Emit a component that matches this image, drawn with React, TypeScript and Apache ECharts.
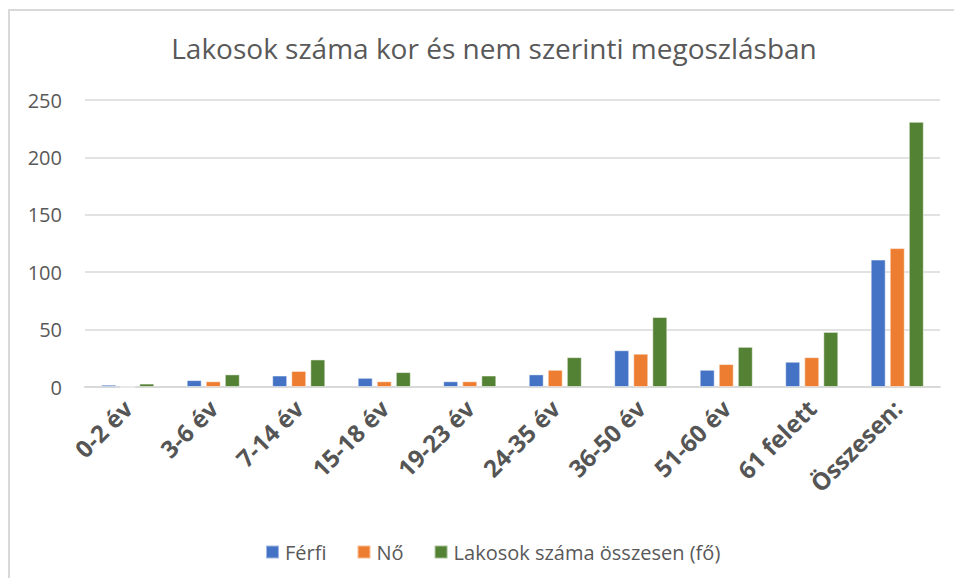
import React, { useEffect, useRef } from "react";
import * as echarts from "echarts";

const categories = ["0-2 év", "3-6 év", "7-14 év", "15-18 év", "19-23 év", "24-35 év", "36-50 év", "51-60 év", "61 felett", "Összesen:"];
const ferfi = [2, 6, 10, 8, 5, 11, 32, 15, 22, 111];
const no = [0, 5, 14, 5, 5, 15, 29, 20, 26, 121];
const osszesen = [3, 11, 24, 13, 10, 26, 61, 35, 48, 231];
const seriesNames = ["Férfi", "Nő", "Lakosok száma összesen (fő)"];
const titleText = "Lakosok száma kor és nem szerinti megoszlásban";

const FONT = "'Open Sans', 'Noto Sans', sans-serif";
const GREY = "#595959";

export default function App() {
  const ref = useRef<HTMLDivElement>(null);
  useEffect(() => {
    if (!ref.current) return;
    const chart = echarts.init(ref.current, null, { renderer: "svg" });
    const mk = (name: string, data: number[], color: string) => ({
      name,
      type: "bar",
      data,
      barWidth: 15,
      barGap: "27%",
      itemStyle: { color, borderColor: "rgba(255,255,255,0.5)", borderWidth: 1 },
    });
    chart.setOption({
      animation: false,
      backgroundColor: "#ffffff",
      textStyle: { fontFamily: FONT },
      title: {
        text: titleText,
        left: 489,
        top: 29,
        textAlign: "center",
        textStyle: { fontFamily: FONT, fontSize: 28, fontWeight: "normal", color: GREY },
      },
      legend: {
        left: 260,
        top: 537,
        itemWidth: 13,
        itemHeight: 13,
        itemGap: 30,
        icon: "rect",
        textStyle: { fontSize: 20, color: GREY, fontFamily: FONT, padding: [0, 0, 0, 1] },
        data: seriesNames,
      },
      grid: { left: 85, right: 14, top: 100, bottom: 191, containLabel: false },
      xAxis: {
        type: "category",
        data: categories,
        axisLine: { lineStyle: { color: "#d9d9d9", width: 2 } },
        axisTick: { show: false },
        axisLabel: { rotate: 45, interval: 0, fontSize: 24, fontWeight: "bold", color: "#555555", fontFamily: FONT, margin: 17 },
      },
      yAxis: {
        type: "value",
        min: 0,
        max: 250,
        interval: 50,
        axisLine: { show: false },
        axisTick: { show: false },
        axisLabel: { fontSize: 20, color: GREY, fontFamily: FONT, margin: 23 },
        splitLine: { lineStyle: { color: "#d9d9d9", width: 1.5 } },
      },
      graphic: [
        {
          type: "rect",
          shape: { x: 9, y: 10, width: 960, height: 600 },
          style: { fill: "none", stroke: "#d9d9d9", lineWidth: 2 },
          silent: true,
        },
      ],
      series: [mk(seriesNames[0], ferfi, "#4472C4"), mk(seriesNames[1], no, "#ED7D31"), mk(seriesNames[2], osszesen, "#548235")],
    });
    return () => chart.dispose();
  }, []);
  return <div ref={ref} style={{ position: "fixed", left: 0, top: 0, width: 954, height: 578 }} />;
}
